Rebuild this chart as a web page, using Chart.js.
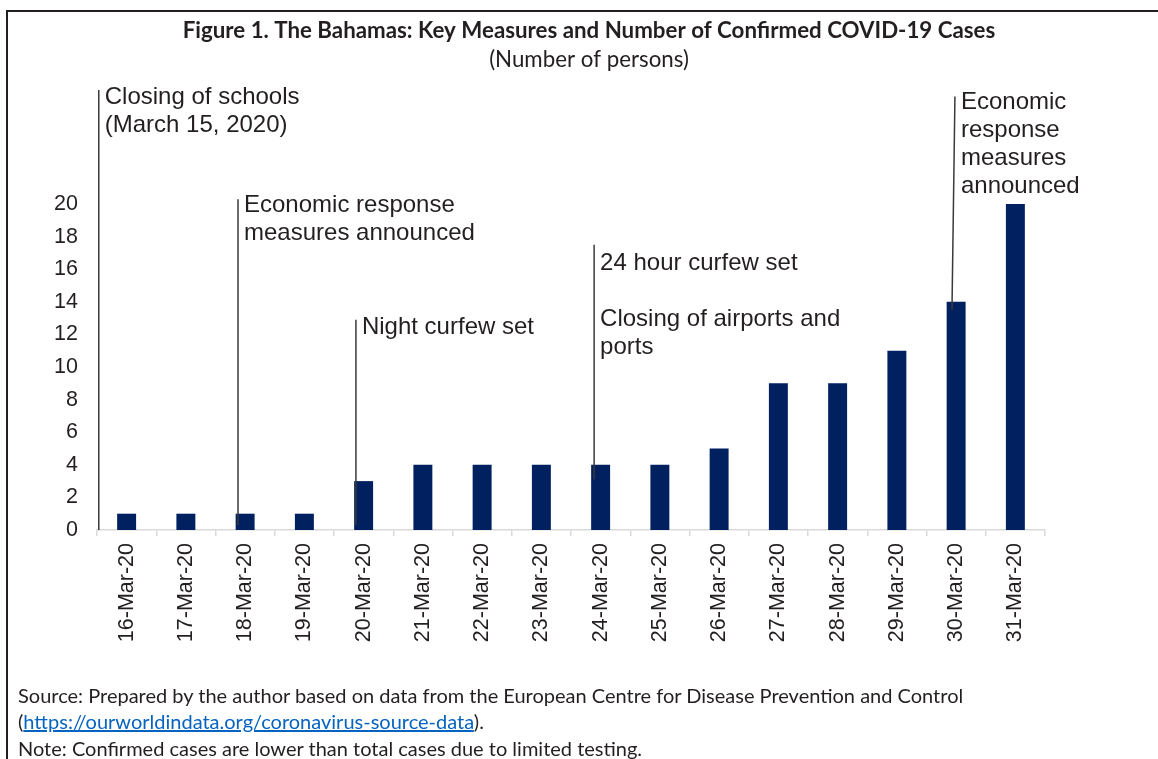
<!DOCTYPE html>
<html>
<head>
<meta charset="utf-8">
<script src="https://cdn.jsdelivr.net/npm/chart.js@4"></script>
<style>
  html, body { margin: 0; padding: 0; background: #fff; }
  body { width: 1158px; height: 759px; position: relative; overflow: hidden; }
  #frame {
    position: absolute; left: 6px; top: 10px; width: 1200px; height: 800px;
    border-left: 2.5px solid #231f20; border-top: 2.5px solid #231f20;
  }
  #chart { position: absolute; left: 0; top: 0; }
  .note {
    position: absolute; left: 18px; font-family: Lato, "Noto Sans", sans-serif;
    font-size: 20px; color: #231f20; white-space: nowrap; line-height: 26px;
  }
  .note a { color: #0563c1; text-decoration: underline; }
</style>
</head>
<body>
<div id="frame"></div>
<canvas id="chart" width="1158" height="759"></canvas>
<div class="note" style="top:682px">Source: Prepared by the author based on data from the European Centre for Disease Prevention and Control</div>
<div class="note" style="top:708px">(<a>https://ourworldindata.org/coronavirus-source-data</a>).</div>
<div class="note" style="top:735px">Note: Confirmed cases are lower than total cases due to limited testing.</div>
<script>
// data
const categories = ['16-Mar-20', '17-Mar-20', '18-Mar-20', '19-Mar-20', '20-Mar-20', '21-Mar-20',
  '22-Mar-20', '23-Mar-20', '24-Mar-20', '25-Mar-20', '26-Mar-20', '27-Mar-20',
  '28-Mar-20', '29-Mar-20', '30-Mar-20', '31-Mar-20'];
const confirmedCases = [1, 1, 1, 1, 3, 4, 4, 4, 4, 4, 5, 9, 9, 11, 14, 20];
const yTickValues = [0, 2, 4, 6, 8, 10, 12, 14, 16, 18, 20];

// key measures: x in category units, line top/bottom in data units, dy = text offset below line top
const measures = [
  { x0: -0.47, x1: -0.47, top: 27, bottom: 0, dy: 7, lines: ['Closing of schools', '(March 15, 2020)'] },
  { x0: 1.88, x1: 1.88, top: 20.3, bottom: 0.3, dy: 6, lines: ['Economic response', 'measures announced'] },
  { x0: 3.87, x1: 3.87, top: 12.9, bottom: 0.3, dy: 8, lines: ['Night curfew set'] },
  { x0: 7.89, x1: 7.89, top: 17.5, bottom: 3.1, dy: 19, lines: ['24 hour curfew set', '', 'Closing of airports and', 'ports'] },
  { x0: 13.98, x1: 13.93, top: 26.6, bottom: 13.5, dy: 6, lines: ['Economic', 'response', 'measures', 'announced'] }
];

const measuresPlugin = {
  id: 'measures',
  afterDatasetsDraw(chart) {
    const ctx = chart.ctx;
    const xs = chart.scales.x;
    const ys = chart.scales.y;
    ctx.save();
    measures.forEach(m => {
      const xTop = xs.getPixelForValue(m.x0);
      const xBot = xs.getPixelForValue(m.x1);
      const yTop = ys.getPixelForValue(m.top);
      const yBot = ys.getPixelForValue(m.bottom);
      ctx.strokeStyle = '#3a3a3a';
      ctx.lineWidth = 1.5;
      ctx.beginPath();
      ctx.moveTo(xTop, yTop);
      ctx.lineTo(xBot, yBot);
      ctx.stroke();

      ctx.fillStyle = '#231f20';
      ctx.font = '24px "Liberation Sans", Arial, sans-serif';
      ctx.textAlign = 'left';
      ctx.textBaseline = 'middle';
      m.lines.forEach((t, i) => {
        ctx.fillText(t, xTop + 6, yTop + m.dy + i * 28);
      });
    });
    ctx.restore();
  }
};

const axisFont = { family: '"Liberation Sans", Arial, sans-serif', size: 21.5 };

new Chart(document.getElementById('chart'), {
  type: 'bar',
  data: {
    labels: categories,
    datasets: [{
      label: 'Confirmed cases',
      data: confirmedCases,
      backgroundColor: '#002060',
      borderWidth: 0,
      barPercentage: 0.32,
      categoryPercentage: 1
    }]
  },
  options: {
    responsive: false,
    animation: false,
    devicePixelRatio: 1,
    // left padding keeps the title centred on the frame, the right gap comes from a blank axis
    layout: { padding: { left: 20, right: 0, top: 0, bottom: 0 } },
    plugins: {
      legend: { display: false },
      tooltip: { enabled: false },
      title: {
        display: true,
        text: 'Figure 1. The Bahamas: Key Measures and Number of Confirmed COVID-19 Cases',
        color: '#231f20',
        font: { family: 'Lato, "Noto Sans", sans-serif', size: 22.3, weight: 'bold' },
        padding: { top: 17, bottom: 0 }
      },
      subtitle: {
        display: true,
        text: '(Number of persons)',
        color: '#231f20',
        font: { family: 'Lato, "Noto Sans", sans-serif', size: 22.3 },
        padding: { top: 3, bottom: 130.5 }
      }
    },
    scales: {
      x: {
        grid: { display: true, drawOnChartArea: false, drawTicks: true, tickLength: 6, color: '#d9d9d9', lineWidth: 1.5 },
        border: { display: true, color: '#d9d9d9', width: 1.5 },
        ticks: { color: '#231f20', font: axisFont, minRotation: 90, maxRotation: 90, padding: 7, autoSkip: false },
        afterFit: s => { s.height = 229; }
      },
      y: {
        min: 0,
        max: 20,
        grid: { display: false, drawTicks: false },
        border: { display: false },
        afterBuildTicks: s => { s.ticks = yTickValues.map(v => ({ value: v })); },
        ticks: { color: '#231f20', font: axisFont, padding: 19 },
        afterFit: s => { s.width = 77; }
      },
      blank: {
        position: 'right',
        min: 0,
        max: 20,
        grid: { display: false, drawTicks: false },
        border: { display: false },
        ticks: { display: false },
        afterFit: s => { s.width = 113; }
      }
    }
  },
  plugins: [measuresPlugin]
});
</script>
</body>
</html>
